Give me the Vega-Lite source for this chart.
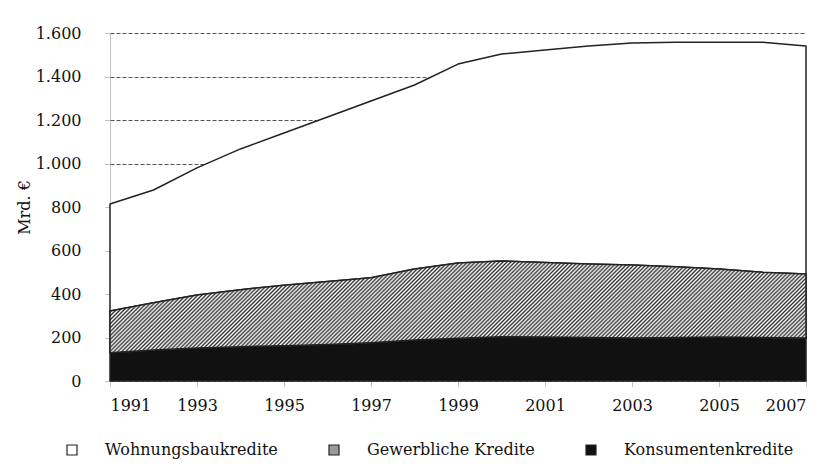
{
  "$schema": "https://vega.github.io/schema/vega-lite/v6.json",
  "width": 696,
  "height": 348,
  "autosize": {"type": "none"},
  "padding": {"left": 110, "top": 33, "right": 25, "bottom": 91},
  "background": "white",
  "config": {
    "locale": {"number": {"decimal": ",", "thousands": ".", "grouping": [3], "currency": ["", " €"]}},
    "font": "DejaVu Serif",
    "view": {"stroke": null}
  },
  "data": {
    "values": [
      {"jahr": 1991, "typ": "Konsumentenkredite", "wert": 130},
      {"jahr": 1992, "typ": "Konsumentenkredite", "wert": 143},
      {"jahr": 1993, "typ": "Konsumentenkredite", "wert": 152},
      {"jahr": 1994, "typ": "Konsumentenkredite", "wert": 158},
      {"jahr": 1995, "typ": "Konsumentenkredite", "wert": 162},
      {"jahr": 1996, "typ": "Konsumentenkredite", "wert": 168},
      {"jahr": 1997, "typ": "Konsumentenkredite", "wert": 176},
      {"jahr": 1998, "typ": "Konsumentenkredite", "wert": 188},
      {"jahr": 1999, "typ": "Konsumentenkredite", "wert": 196},
      {"jahr": 2000, "typ": "Konsumentenkredite", "wert": 204},
      {"jahr": 2001, "typ": "Konsumentenkredite", "wert": 202},
      {"jahr": 2002, "typ": "Konsumentenkredite", "wert": 200},
      {"jahr": 2003, "typ": "Konsumentenkredite", "wert": 198},
      {"jahr": 2004, "typ": "Konsumentenkredite", "wert": 200},
      {"jahr": 2005, "typ": "Konsumentenkredite", "wert": 202},
      {"jahr": 2006, "typ": "Konsumentenkredite", "wert": 200},
      {"jahr": 2007, "typ": "Konsumentenkredite", "wert": 198},
      {"jahr": 1991, "typ": "Gewerbliche Kredite", "wert": 192},
      {"jahr": 1992, "typ": "Gewerbliche Kredite", "wert": 217},
      {"jahr": 1993, "typ": "Gewerbliche Kredite", "wert": 243},
      {"jahr": 1994, "typ": "Gewerbliche Kredite", "wert": 262},
      {"jahr": 1995, "typ": "Gewerbliche Kredite", "wert": 278},
      {"jahr": 1996, "typ": "Gewerbliche Kredite", "wert": 290},
      {"jahr": 1997, "typ": "Gewerbliche Kredite", "wert": 299},
      {"jahr": 1998, "typ": "Gewerbliche Kredite", "wert": 327},
      {"jahr": 1999, "typ": "Gewerbliche Kredite", "wert": 346},
      {"jahr": 2000, "typ": "Gewerbliche Kredite", "wert": 348},
      {"jahr": 2001, "typ": "Gewerbliche Kredite", "wert": 343},
      {"jahr": 2002, "typ": "Gewerbliche Kredite", "wert": 338},
      {"jahr": 2003, "typ": "Gewerbliche Kredite", "wert": 335},
      {"jahr": 2004, "typ": "Gewerbliche Kredite", "wert": 325},
      {"jahr": 2005, "typ": "Gewerbliche Kredite", "wert": 313},
      {"jahr": 2006, "typ": "Gewerbliche Kredite", "wert": 300},
      {"jahr": 2007, "typ": "Gewerbliche Kredite", "wert": 294},
      {"jahr": 1991, "typ": "Wohnungsbaukredite", "wert": 492},
      {"jahr": 1992, "typ": "Wohnungsbaukredite", "wert": 518},
      {"jahr": 1993, "typ": "Wohnungsbaukredite", "wert": 585},
      {"jahr": 1994, "typ": "Wohnungsbaukredite", "wert": 647},
      {"jahr": 1995, "typ": "Wohnungsbaukredite", "wert": 700},
      {"jahr": 1996, "typ": "Wohnungsbaukredite", "wert": 756},
      {"jahr": 1997, "typ": "Wohnungsbaukredite", "wert": 812},
      {"jahr": 1998, "typ": "Wohnungsbaukredite", "wert": 846},
      {"jahr": 1999, "typ": "Wohnungsbaukredite", "wert": 915},
      {"jahr": 2000, "typ": "Wohnungsbaukredite", "wert": 951},
      {"jahr": 2001, "typ": "Wohnungsbaukredite", "wert": 977},
      {"jahr": 2002, "typ": "Wohnungsbaukredite", "wert": 1002},
      {"jahr": 2003, "typ": "Wohnungsbaukredite", "wert": 1021},
      {"jahr": 2004, "typ": "Wohnungsbaukredite", "wert": 1033},
      {"jahr": 2005, "typ": "Wohnungsbaukredite", "wert": 1043},
      {"jahr": 2006, "typ": "Wohnungsbaukredite", "wert": 1058},
      {"jahr": 2007, "typ": "Wohnungsbaukredite", "wert": 1048}
    ]
  },
  "transform": [
    {"calculate": "indexof(['Konsumentenkredite', 'Gewerbliche Kredite', 'Wohnungsbaukredite'], datum.typ)", "as": "rang"},
    {"stack": "wert", "groupby": ["jahr"], "sort": [{"field": "rang", "order": "ascending"}], "as": ["unten", "oben"]}
  ],
  "encoding": {
    "x": {
      "field": "jahr", "type": "quantitative",
      "scale": {"domain": [1991, 2007], "nice": false, "zero": false},
      "axis": {
        "values": [1991, 1993, 1995, 1997, 1999, 2001, 2003, 2005, 2007],
        "format": "d", "title": null, "grid": false,
        "domainColor": "#888", "domainDash": [1, 1], "domainWidth": 1,
        "tickColor": "#888", "tickSize": 5, "tickWidth": 1, "tickDash": [1, 1],
        "labelFontSize": 16, "labelColor": "#111",
        "labelPadding": 11
      }
    },
    "y": {
      "field": "oben", "type": "quantitative",
      "scale": {"domain": [0, 1600], "nice": false},
      "axis": {
        "values": [0, 200, 400, 600, 800, 1000, 1200, 1400, 1600],
        "format": ",d",
        "title": "Mrd. €", "titleFontSize": 16, "titleFontWeight": "normal", "titleColor": "#111", "titlePadding": 3,
        "grid": true, "gridColor": "#555", "gridDash": [4, 2], "gridWidth": 1,
        "domainColor": "#888", "domainDash": [1, 1], "domainWidth": 1,
        "tickColor": "#888", "tickSize": 5, "tickDash": [1, 1],
        "labelFontSize": 16, "labelColor": "#111",
        "labelPadding": 24
      }
    },
    "y2": {"field": "unten"}
  },
  "layer": [
    {
      "mark": {"type": "area", "stroke": "#222", "strokeWidth": 1.5, "strokeJoin": "round", "opacity": 1},
      "encoding": {
        "color": {
          "field": "typ", "type": "nominal",
          "sort": ["Wohnungsbaukredite", "Gewerbliche Kredite", "Konsumentenkredite"],
          "scale": {
            "domain": ["Wohnungsbaukredite", "Gewerbliche Kredite", "Konsumentenkredite"],
            "range": ["#ffffff", "#9a9a9a", "#111111"]
          },
          "legend": {
            "title": null, "orient": "none", "direction": "horizontal",
            "legendX": -46, "legendY": 409,
            "symbolType": "square", "symbolSize": 100, "symbolStrokeColor": "#222", "symbolStrokeWidth": 1.2,
            "labelFontSize": 16, "labelColor": "#111", "labelLimit": 400,
            "labelOffset": 25, "columnPadding": 48, "symbolOpacity": 1
          }
        }
      }
    },
    {
      "transform": [{"filter": "datum.typ === 'Gewerbliche Kredite'"}],
      "mark": {"type": "area", "stroke": "#222", "strokeWidth": 1.5, "strokeJoin": "round", "opacity": 1,
        "fill": {"gradient": "linear", "x1": 0, "y1": 0, "x2": 1.113, "y2": 0.147, "stops": [
{"offset":0,"color":"#333"},{"offset":0.0025,"color":"#fff"},{"offset":0.005,"color":"#333"},{"offset":0.0075,"color":"#fff"},
{"offset":0.01,"color":"#333"},{"offset":0.0125,"color":"#fff"},{"offset":0.015,"color":"#333"},{"offset":0.0175,"color":"#fff"},
{"offset":0.02,"color":"#333"},{"offset":0.0225,"color":"#fff"},{"offset":0.025,"color":"#333"},{"offset":0.0275,"color":"#fff"},
{"offset":0.03,"color":"#333"},{"offset":0.0325,"color":"#fff"},{"offset":0.035,"color":"#333"},{"offset":0.0375,"color":"#fff"},
{"offset":0.04,"color":"#333"},{"offset":0.0425,"color":"#fff"},{"offset":0.045,"color":"#333"},{"offset":0.0475,"color":"#fff"},
{"offset":0.05,"color":"#333"},{"offset":0.0525,"color":"#fff"},{"offset":0.055,"color":"#333"},{"offset":0.0575,"color":"#fff"},
{"offset":0.06,"color":"#333"},{"offset":0.0625,"color":"#fff"},{"offset":0.065,"color":"#333"},{"offset":0.0675,"color":"#fff"},
{"offset":0.07,"color":"#333"},{"offset":0.0725,"color":"#fff"},{"offset":0.075,"color":"#333"},{"offset":0.0775,"color":"#fff"},
{"offset":0.08,"color":"#333"},{"offset":0.0825,"color":"#fff"},{"offset":0.085,"color":"#333"},{"offset":0.0875,"color":"#fff"},
{"offset":0.09,"color":"#333"},{"offset":0.0925,"color":"#fff"},{"offset":0.095,"color":"#333"},{"offset":0.0975,"color":"#fff"},
{"offset":0.10,"color":"#333"},{"offset":0.1025,"color":"#fff"},{"offset":0.105,"color":"#333"},{"offset":0.1075,"color":"#fff"},
{"offset":0.11,"color":"#333"},{"offset":0.1125,"color":"#fff"},{"offset":0.115,"color":"#333"},{"offset":0.1175,"color":"#fff"},
{"offset":0.12,"color":"#333"},{"offset":0.1225,"color":"#fff"},{"offset":0.125,"color":"#333"},{"offset":0.1275,"color":"#fff"},
{"offset":0.13,"color":"#333"},{"offset":0.1325,"color":"#fff"},{"offset":0.135,"color":"#333"},{"offset":0.1375,"color":"#fff"},
{"offset":0.14,"color":"#333"},{"offset":0.1425,"color":"#fff"},{"offset":0.145,"color":"#333"},{"offset":0.1475,"color":"#fff"},
{"offset":0.15,"color":"#333"},{"offset":0.1525,"color":"#fff"},{"offset":0.155,"color":"#333"},{"offset":0.1575,"color":"#fff"},
{"offset":0.16,"color":"#333"},{"offset":0.1625,"color":"#fff"},{"offset":0.165,"color":"#333"},{"offset":0.1675,"color":"#fff"},
{"offset":0.17,"color":"#333"},{"offset":0.1725,"color":"#fff"},{"offset":0.175,"color":"#333"},{"offset":0.1775,"color":"#fff"},
{"offset":0.18,"color":"#333"},{"offset":0.1825,"color":"#fff"},{"offset":0.185,"color":"#333"},{"offset":0.1875,"color":"#fff"},
{"offset":0.19,"color":"#333"},{"offset":0.1925,"color":"#fff"},{"offset":0.195,"color":"#333"},{"offset":0.1975,"color":"#fff"},
{"offset":0.20,"color":"#333"},{"offset":0.2025,"color":"#fff"},{"offset":0.205,"color":"#333"},{"offset":0.2075,"color":"#fff"},
{"offset":0.21,"color":"#333"},{"offset":0.2125,"color":"#fff"},{"offset":0.215,"color":"#333"},{"offset":0.2175,"color":"#fff"},
{"offset":0.22,"color":"#333"},{"offset":0.2225,"color":"#fff"},{"offset":0.225,"color":"#333"},{"offset":0.2275,"color":"#fff"},
{"offset":0.23,"color":"#333"},{"offset":0.2325,"color":"#fff"},{"offset":0.235,"color":"#333"},{"offset":0.2375,"color":"#fff"},
{"offset":0.24,"color":"#333"},{"offset":0.2425,"color":"#fff"},{"offset":0.245,"color":"#333"},{"offset":0.2475,"color":"#fff"},
{"offset":0.25,"color":"#333"},{"offset":0.2525,"color":"#fff"},{"offset":0.255,"color":"#333"},{"offset":0.2575,"color":"#fff"},
{"offset":0.26,"color":"#333"},{"offset":0.2625,"color":"#fff"},{"offset":0.265,"color":"#333"},{"offset":0.2675,"color":"#fff"},
{"offset":0.27,"color":"#333"},{"offset":0.2725,"color":"#fff"},{"offset":0.275,"color":"#333"},{"offset":0.2775,"color":"#fff"},
{"offset":0.28,"color":"#333"},{"offset":0.2825,"color":"#fff"},{"offset":0.285,"color":"#333"},{"offset":0.2875,"color":"#fff"},
{"offset":0.29,"color":"#333"},{"offset":0.2925,"color":"#fff"},{"offset":0.295,"color":"#333"},{"offset":0.2975,"color":"#fff"},
{"offset":0.30,"color":"#333"},{"offset":0.3025,"color":"#fff"},{"offset":0.305,"color":"#333"},{"offset":0.3075,"color":"#fff"},
{"offset":0.31,"color":"#333"},{"offset":0.3125,"color":"#fff"},{"offset":0.315,"color":"#333"},{"offset":0.3175,"color":"#fff"},
{"offset":0.32,"color":"#333"},{"offset":0.3225,"color":"#fff"},{"offset":0.325,"color":"#333"},{"offset":0.3275,"color":"#fff"},
{"offset":0.33,"color":"#333"},{"offset":0.3325,"color":"#fff"},{"offset":0.335,"color":"#333"},{"offset":0.3375,"color":"#fff"},
{"offset":0.34,"color":"#333"},{"offset":0.3425,"color":"#fff"},{"offset":0.345,"color":"#333"},{"offset":0.3475,"color":"#fff"},
{"offset":0.35,"color":"#333"},{"offset":0.3525,"color":"#fff"},{"offset":0.355,"color":"#333"},{"offset":0.3575,"color":"#fff"},
{"offset":0.36,"color":"#333"},{"offset":0.3625,"color":"#fff"},{"offset":0.365,"color":"#333"},{"offset":0.3675,"color":"#fff"},
{"offset":0.37,"color":"#333"},{"offset":0.3725,"color":"#fff"},{"offset":0.375,"color":"#333"},{"offset":0.3775,"color":"#fff"},
{"offset":0.38,"color":"#333"},{"offset":0.3825,"color":"#fff"},{"offset":0.385,"color":"#333"},{"offset":0.3875,"color":"#fff"},
{"offset":0.39,"color":"#333"},{"offset":0.3925,"color":"#fff"},{"offset":0.395,"color":"#333"},{"offset":0.3975,"color":"#fff"},
{"offset":0.40,"color":"#333"},{"offset":0.4025,"color":"#fff"},{"offset":0.405,"color":"#333"},{"offset":0.4075,"color":"#fff"},
{"offset":0.41,"color":"#333"},{"offset":0.4125,"color":"#fff"},{"offset":0.415,"color":"#333"},{"offset":0.4175,"color":"#fff"},
{"offset":0.42,"color":"#333"},{"offset":0.4225,"color":"#fff"},{"offset":0.425,"color":"#333"},{"offset":0.4275,"color":"#fff"},
{"offset":0.43,"color":"#333"},{"offset":0.4325,"color":"#fff"},{"offset":0.435,"color":"#333"},{"offset":0.4375,"color":"#fff"},
{"offset":0.44,"color":"#333"},{"offset":0.4425,"color":"#fff"},{"offset":0.445,"color":"#333"},{"offset":0.4475,"color":"#fff"},
{"offset":0.45,"color":"#333"},{"offset":0.4525,"color":"#fff"},{"offset":0.455,"color":"#333"},{"offset":0.4575,"color":"#fff"},
{"offset":0.46,"color":"#333"},{"offset":0.4625,"color":"#fff"},{"offset":0.465,"color":"#333"},{"offset":0.4675,"color":"#fff"},
{"offset":0.47,"color":"#333"},{"offset":0.4725,"color":"#fff"},{"offset":0.475,"color":"#333"},{"offset":0.4775,"color":"#fff"},
{"offset":0.48,"color":"#333"},{"offset":0.4825,"color":"#fff"},{"offset":0.485,"color":"#333"},{"offset":0.4875,"color":"#fff"},
{"offset":0.49,"color":"#333"},{"offset":0.4925,"color":"#fff"},{"offset":0.495,"color":"#333"},{"offset":0.4975,"color":"#fff"},
{"offset":0.50,"color":"#333"},{"offset":0.5025,"color":"#fff"},{"offset":0.505,"color":"#333"},{"offset":0.5075,"color":"#fff"},
{"offset":0.51,"color":"#333"},{"offset":0.5125,"color":"#fff"},{"offset":0.515,"color":"#333"},{"offset":0.5175,"color":"#fff"},
{"offset":0.52,"color":"#333"},{"offset":0.5225,"color":"#fff"},{"offset":0.525,"color":"#333"},{"offset":0.5275,"color":"#fff"},
{"offset":0.53,"color":"#333"},{"offset":0.5325,"color":"#fff"},{"offset":0.535,"color":"#333"},{"offset":0.5375,"color":"#fff"},
{"offset":0.54,"color":"#333"},{"offset":0.5425,"color":"#fff"},{"offset":0.545,"color":"#333"},{"offset":0.5475,"color":"#fff"},
{"offset":0.55,"color":"#333"},{"offset":0.5525,"color":"#fff"},{"offset":0.555,"color":"#333"},{"offset":0.5575,"color":"#fff"},
{"offset":0.56,"color":"#333"},{"offset":0.5625,"color":"#fff"},{"offset":0.565,"color":"#333"},{"offset":0.5675,"color":"#fff"},
{"offset":0.57,"color":"#333"},{"offset":0.5725,"color":"#fff"},{"offset":0.575,"color":"#333"},{"offset":0.5775,"color":"#fff"},
{"offset":0.58,"color":"#333"},{"offset":0.5825,"color":"#fff"},{"offset":0.585,"color":"#333"},{"offset":0.5875,"color":"#fff"},
{"offset":0.59,"color":"#333"},{"offset":0.5925,"color":"#fff"},{"offset":0.595,"color":"#333"},{"offset":0.5975,"color":"#fff"},
{"offset":0.60,"color":"#333"},{"offset":0.6025,"color":"#fff"},{"offset":0.605,"color":"#333"},{"offset":0.6075,"color":"#fff"},
{"offset":0.61,"color":"#333"},{"offset":0.6125,"color":"#fff"},{"offset":0.615,"color":"#333"},{"offset":0.6175,"color":"#fff"},
{"offset":0.62,"color":"#333"},{"offset":0.6225,"color":"#fff"},{"offset":0.625,"color":"#333"},{"offset":0.6275,"color":"#fff"},
{"offset":0.63,"color":"#333"},{"offset":0.6325,"color":"#fff"},{"offset":0.635,"color":"#333"},{"offset":0.6375,"color":"#fff"},
{"offset":0.64,"color":"#333"},{"offset":0.6425,"color":"#fff"},{"offset":0.645,"color":"#333"},{"offset":0.6475,"color":"#fff"},
{"offset":0.65,"color":"#333"},{"offset":0.6525,"color":"#fff"},{"offset":0.655,"color":"#333"},{"offset":0.6575,"color":"#fff"},
{"offset":0.66,"color":"#333"},{"offset":0.6625,"color":"#fff"},{"offset":0.665,"color":"#333"},{"offset":0.6675,"color":"#fff"},
{"offset":0.67,"color":"#333"},{"offset":0.6725,"color":"#fff"},{"offset":0.675,"color":"#333"},{"offset":0.6775,"color":"#fff"},
{"offset":0.68,"color":"#333"},{"offset":0.6825,"color":"#fff"},{"offset":0.685,"color":"#333"},{"offset":0.6875,"color":"#fff"},
{"offset":0.69,"color":"#333"},{"offset":0.6925,"color":"#fff"},{"offset":0.695,"color":"#333"},{"offset":0.6975,"color":"#fff"},
{"offset":0.70,"color":"#333"},{"offset":0.7025,"color":"#fff"},{"offset":0.705,"color":"#333"},{"offset":0.7075,"color":"#fff"},
{"offset":0.71,"color":"#333"},{"offset":0.7125,"color":"#fff"},{"offset":0.715,"color":"#333"},{"offset":0.7175,"color":"#fff"},
{"offset":0.72,"color":"#333"},{"offset":0.7225,"color":"#fff"},{"offset":0.725,"color":"#333"},{"offset":0.7275,"color":"#fff"},
{"offset":0.73,"color":"#333"},{"offset":0.7325,"color":"#fff"},{"offset":0.735,"color":"#333"},{"offset":0.7375,"color":"#fff"},
{"offset":0.74,"color":"#333"},{"offset":0.7425,"color":"#fff"},{"offset":0.745,"color":"#333"},{"offset":0.7475,"color":"#fff"},
{"offset":0.75,"color":"#333"},{"offset":0.7525,"color":"#fff"},{"offset":0.755,"color":"#333"},{"offset":0.7575,"color":"#fff"},
{"offset":0.76,"color":"#333"},{"offset":0.7625,"color":"#fff"},{"offset":0.765,"color":"#333"},{"offset":0.7675,"color":"#fff"},
{"offset":0.77,"color":"#333"},{"offset":0.7725,"color":"#fff"},{"offset":0.775,"color":"#333"},{"offset":0.7775,"color":"#fff"},
{"offset":0.78,"color":"#333"},{"offset":0.7825,"color":"#fff"},{"offset":0.785,"color":"#333"},{"offset":0.7875,"color":"#fff"},
{"offset":0.79,"color":"#333"},{"offset":0.7925,"color":"#fff"},{"offset":0.795,"color":"#333"},{"offset":0.7975,"color":"#fff"},
{"offset":0.80,"color":"#333"},{"offset":0.8025,"color":"#fff"},{"offset":0.805,"color":"#333"},{"offset":0.8075,"color":"#fff"},
{"offset":0.81,"color":"#333"},{"offset":0.8125,"color":"#fff"},{"offset":0.815,"color":"#333"},{"offset":0.8175,"color":"#fff"},
{"offset":0.82,"color":"#333"},{"offset":0.8225,"color":"#fff"},{"offset":0.825,"color":"#333"},{"offset":0.8275,"color":"#fff"},
{"offset":0.83,"color":"#333"},{"offset":0.8325,"color":"#fff"},{"offset":0.835,"color":"#333"},{"offset":0.8375,"color":"#fff"},
{"offset":0.84,"color":"#333"},{"offset":0.8425,"color":"#fff"},{"offset":0.845,"color":"#333"},{"offset":0.8475,"color":"#fff"},
{"offset":0.85,"color":"#333"},{"offset":0.8525,"color":"#fff"},{"offset":0.855,"color":"#333"},{"offset":0.8575,"color":"#fff"},
{"offset":0.86,"color":"#333"},{"offset":0.8625,"color":"#fff"},{"offset":0.865,"color":"#333"},{"offset":0.8675,"color":"#fff"},
{"offset":0.87,"color":"#333"},{"offset":0.8725,"color":"#fff"},{"offset":0.875,"color":"#333"},{"offset":0.8775,"color":"#fff"},
{"offset":0.88,"color":"#333"},{"offset":0.8825,"color":"#fff"},{"offset":0.885,"color":"#333"},{"offset":0.8875,"color":"#fff"},
{"offset":0.89,"color":"#333"},{"offset":0.8925,"color":"#fff"},{"offset":0.895,"color":"#333"},{"offset":0.8975,"color":"#fff"},
{"offset":0.90,"color":"#333"},{"offset":0.9025,"color":"#fff"},{"offset":0.905,"color":"#333"},{"offset":0.9075,"color":"#fff"},
{"offset":0.91,"color":"#333"},{"offset":0.9125,"color":"#fff"},{"offset":0.915,"color":"#333"},{"offset":0.9175,"color":"#fff"},
{"offset":0.92,"color":"#333"},{"offset":0.9225,"color":"#fff"},{"offset":0.925,"color":"#333"},{"offset":0.9275,"color":"#fff"},
{"offset":0.93,"color":"#333"},{"offset":0.9325,"color":"#fff"},{"offset":0.935,"color":"#333"},{"offset":0.9375,"color":"#fff"},
{"offset":0.94,"color":"#333"},{"offset":0.9425,"color":"#fff"},{"offset":0.945,"color":"#333"},{"offset":0.9475,"color":"#fff"},
{"offset":0.95,"color":"#333"},{"offset":0.9525,"color":"#fff"},{"offset":0.955,"color":"#333"},{"offset":0.9575,"color":"#fff"},
{"offset":0.96,"color":"#333"},{"offset":0.9625,"color":"#fff"},{"offset":0.965,"color":"#333"},{"offset":0.9675,"color":"#fff"},
{"offset":0.97,"color":"#333"},{"offset":0.9725,"color":"#fff"},{"offset":0.975,"color":"#333"},{"offset":0.9775,"color":"#fff"},
{"offset":0.98,"color":"#333"},{"offset":0.9825,"color":"#fff"},{"offset":0.985,"color":"#333"},{"offset":0.9875,"color":"#fff"},
{"offset":0.99,"color":"#333"},{"offset":0.9925,"color":"#fff"},{"offset":0.995,"color":"#333"},{"offset":0.9975,"color":"#fff"},
{"offset":1,"color":"#333"}
        ]}
      }
    }
  ]
}
